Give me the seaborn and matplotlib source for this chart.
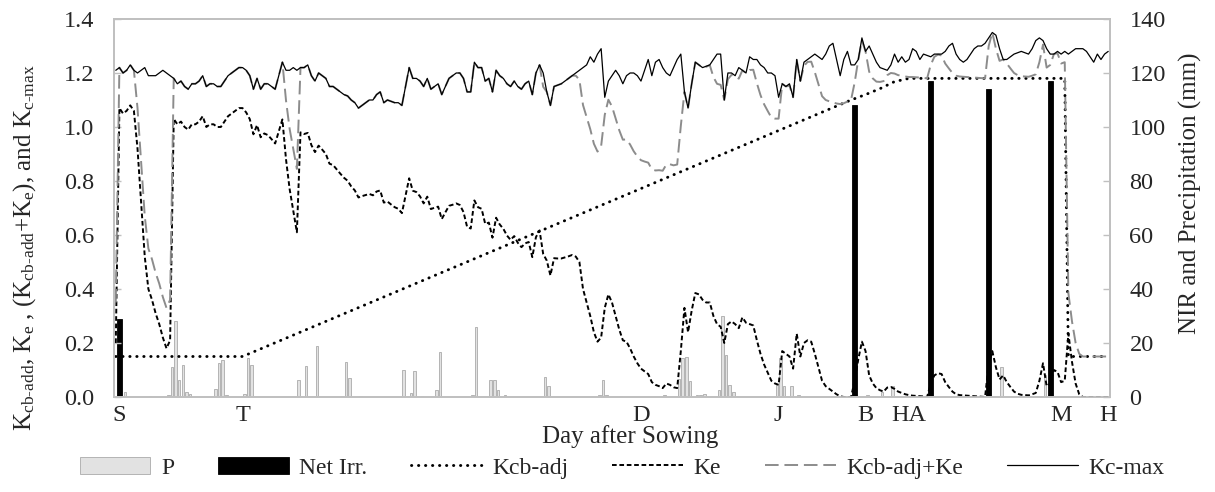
import numpy as np
import pandas as pd
import matplotlib
matplotlib.use("Agg")
import matplotlib.pyplot as plt
import seaborn as sns

# daily values, day 1 .. 275 after sowing
kc_max = [
    1.21, 1.22, 1.20, 1.21, 1.23, 1.21, 1.20, 1.21, 1.22, 1.19,
    1.19, 1.19, 1.20, 1.21, 1.20, 1.19, 1.18, 1.16, 1.17, 1.15,
    1.14, 1.16, 1.16, 1.17, 1.19, 1.15, 1.16, 1.16, 1.15, 1.15,
    1.17, 1.19, 1.20, 1.21, 1.22, 1.22, 1.21, 1.19, 1.14, 1.18,
    1.14, 1.16, 1.16, 1.15, 1.14, 1.19, 1.24, 1.21, 1.21, 1.22,
    1.21, 1.22, 1.22, 1.23, 1.19, 1.17, 1.20, 1.19, 1.18, 1.15,
    1.15, 1.14, 1.13, 1.12, 1.115, 1.10, 1.09, 1.07, 1.08, 1.09,
    1.10, 1.10, 1.12, 1.13, 1.09, 1.10, 1.095, 1.09, 1.09, 1.08,
    1.15, 1.22, 1.18, 1.18, 1.17, 1.15, 1.18, 1.14, 1.15, 1.16,
    1.12, 1.15, 1.18, 1.19, 1.20, 1.20, 1.18, 1.13, 1.13, 1.24,
    1.22, 1.22, 1.17, 1.18, 1.13, 1.21, 1.19, 1.18, 1.16, 1.15,
    1.17, 1.15, 1.14, 1.16, 1.17, 1.12, 1.20, 1.23, 1.20, 1.13,
    1.08, 1.15, 1.155, 1.16, 1.17, 1.18, 1.19, 1.20, 1.21, 1.22,
    1.23, 1.26, 1.24, 1.27, 1.29, 1.11, 1.17, 1.19, 1.21, 1.19,
    1.16, 1.19, 1.20, 1.20, 1.19, 1.17, 1.21, 1.25, 1.19, 1.24,
    1.25, 1.22, 1.20, 1.19, 1.22, 1.25, 1.27, 1.13, 1.07, 1.16,
    1.24, 1.23, 1.22, 1.225, 1.23, 1.25, 1.27, 1.27, 1.10, 1.20,
    1.20, 1.19, 1.22, 1.21, 1.20, 1.26, 1.25, 1.25, 1.23, 1.22,
    1.20, 1.20, 1.19, 1.11, 1.16, 1.15, 1.16, 1.11, 1.25, 1.17,
    1.24, 1.25, 1.26, 1.27, 1.26, 1.25, 1.27, 1.30, 1.31, 1.25,
    1.19, 1.25, 1.28, 1.23, 1.23, 1.25, 1.33, 1.28, 1.30, 1.27,
    1.24, 1.22, 1.215, 1.21, 1.23, 1.27, 1.24, 1.26, 1.24, 1.25,
    1.29, 1.28, 1.25, 1.27, 1.265, 1.26, 1.27, 1.27, 1.27, 1.28,
    1.30, 1.31, 1.27, 1.25, 1.24, 1.25, 1.27, 1.29, 1.30, 1.30,
    1.31, 1.33, 1.35, 1.34, 1.29, 1.25, 1.25, 1.26, 1.27, 1.275,
    1.28, 1.275, 1.27, 1.29, 1.32, 1.33, 1.32, 1.29, 1.27, 1.27,
    1.28, 1.27, 1.28, 1.27, 1.28, 1.29, 1.29, 1.29, 1.28, 1.26,
    1.24, 1.27, 1.25, 1.27, 1.28,
]

ke = [
    0.20, 1.07, 1.05, 1.06, 1.08, 1.06, 0.92, 0.72, 0.52, 0.40,
    0.36, 0.31, 0.27, 0.22, 0.18, 0.21, 1.03, 1.01, 1.02, 1.00,
    0.99, 1.01, 1.01, 1.02, 1.04, 1.00, 1.01, 1.01, 1.00, 1.00,
    1.02, 1.04, 1.05, 1.06, 1.07, 1.07, 1.054, 1.029, 0.973, 1.007,
    0.962, 0.976, 0.970, 0.955, 0.939, 0.983, 1.028, 0.88, 0.77, 0.69,
    0.61, 0.98, 0.974, 0.978, 0.933, 0.907, 0.931, 0.916, 0.900, 0.864,
    0.859, 0.843, 0.827, 0.812, 0.801, 0.780, 0.765, 0.739, 0.744, 0.748,
    0.752, 0.747, 0.761, 0.765, 0.720, 0.724, 0.713, 0.703, 0.697, 0.681,
    0.746, 0.810, 0.764, 0.759, 0.743, 0.717, 0.742, 0.696, 0.701, 0.705,
    0.659, 0.684, 0.708, 0.712, 0.717, 0.711, 0.685, 0.630, 0.624, 0.728,
    0.703, 0.697, 0.641, 0.646, 0.590, 0.664, 0.639, 0.623, 0.598, 0.582,
    0.596, 0.571, 0.555, 0.569, 0.574, 0.518, 0.592, 0.617, 0.530, 0.505,
    0.450, 0.514, 0.513, 0.513, 0.517, 0.521, 0.526, 0.520, 0.500, 0.400,
    0.35, 0.30, 0.24, 0.205, 0.22, 0.33, 0.38, 0.35, 0.30, 0.25,
    0.21, 0.205, 0.18, 0.15, 0.125, 0.105, 0.095, 0.085, 0.055, 0.045,
    0.04, 0.033, 0.05, 0.045, 0.036, 0.033, 0.17, 0.33, 0.24, 0.32,
    0.385, 0.38, 0.36, 0.35, 0.35, 0.30, 0.27, 0.26, 0.20, 0.27,
    0.28, 0.27, 0.255, 0.295, 0.275, 0.27, 0.265, 0.21, 0.16, 0.12,
    0.09, 0.06, 0.05, 0.045, 0.17, 0.16, 0.15, 0.105, 0.235, 0.15,
    0.20, 0.21, 0.205, 0.16, 0.11, 0.06, 0.04, 0.03, 0.02, 0.01,
    0.003, 0.0, 0.0, 0.0, 0.06, 0.14, 0.205, 0.17, 0.08, 0.05,
    0.033, 0.025, 0.02, 0.035, 0.037, 0.03, 0.02, 0.015, 0.01, 0.007,
    0.005, 0.004, 0.003, 0.002, 0.0, 0.05, 0.08, 0.088, 0.085, 0.055,
    0.037, 0.02, 0.01, 0.007, 0.006, 0.005, 0.004, 0.003, 0.002, 0.001,
    0.0, 0.12, 0.17, 0.11, 0.065, 0.08, 0.055, 0.037, 0.02, 0.012,
    0.008, 0.007, 0.006, 0.01, 0.015, 0.06, 0.125, 0.04, 0.05, 0.10,
    0.093, 0.055, 0.06, 0.235, 0.13, 0.05, 0.01, 0.0, 0.0, 0.0,
    0.0, 0.0, 0.0, 0.0, 0.0,
]

kcb_ke = [
    0.35, 1.22, 1.20, 1.21, 1.23, 1.21, 1.07, 0.87, 0.67, 0.55,
    0.51, 0.46, 0.42, 0.37, 0.33, 0.36, 1.18, 1.16, 1.17, 1.15,
    1.14, 1.16, 1.16, 1.17, 1.19, 1.15, 1.16, 1.16, 1.15, 1.15,
    1.17, 1.19, 1.20, 1.21, 1.22, 1.22, 1.21, 1.19, 1.14, 1.18,
    1.14, 1.16, 1.16, 1.15, 1.14, 1.19, 1.24, 1.098, 0.993, 0.919,
    0.845, 1.22, 1.22, 1.23, 1.19, 1.17, 1.20, 1.19, 1.18, 1.15,
    1.15, 1.14, 1.13, 1.12, 1.115, 1.10, 1.09, 1.07, 1.08, 1.09,
    1.10, 1.10, 1.12, 1.13, 1.09, 1.10, 1.095, 1.09, 1.09, 1.08,
    1.15, 1.22, 1.18, 1.18, 1.17, 1.15, 1.18, 1.14, 1.15, 1.16,
    1.12, 1.15, 1.18, 1.19, 1.20, 1.20, 1.18, 1.13, 1.13, 1.24,
    1.22, 1.22, 1.17, 1.18, 1.13, 1.21, 1.19, 1.18, 1.16, 1.15,
    1.17, 1.15, 1.14, 1.16, 1.17, 1.12, 1.20, 1.23, 1.149, 1.13,
    1.08, 1.15, 1.155, 1.16, 1.17, 1.18, 1.19, 1.19, 1.175, 1.081,
    1.037, 0.992, 0.938, 0.909, 0.929, 1.045, 1.101, 1.076, 1.032, 0.988,
    0.953, 0.954, 0.935, 0.910, 0.891, 0.877, 0.872, 0.868, 0.843, 0.839,
    0.840, 0.838, 0.861, 0.862, 0.858, 0.861, 1.004, 1.13, 1.07, 1.16,
    1.24, 1.23, 1.22, 1.223, 1.229, 1.185, 1.16, 1.156, 1.10, 1.177,
    1.193, 1.188, 1.179, 1.21, 1.20, 1.211, 1.212, 1.162, 1.118, 1.084,
    1.059, 1.035, 1.031, 1.031, 1.16, 1.15, 1.153, 1.11, 1.249, 1.17,
    1.226, 1.241, 1.242, 1.203, 1.158, 1.114, 1.10, 1.095, 1.091, 1.087,
    1.085, 1.088, 1.094, 1.10, 1.165, 1.25, 1.32, 1.28, 1.205, 1.18,
    1.168, 1.167, 1.17, 1.192, 1.20, 1.198, 1.192, 1.19, 1.187, 1.185,
    1.185, 1.184, 1.183, 1.182, 1.18, 1.23, 1.26, 1.268, 1.265, 1.235,
    1.217, 1.20, 1.19, 1.187, 1.186, 1.185, 1.184, 1.183, 1.182, 1.181,
    1.18, 1.30, 1.35, 1.29, 1.245, 1.25, 1.235, 1.217, 1.20, 1.192,
    1.188, 1.187, 1.186, 1.19, 1.195, 1.24, 1.305, 1.22, 1.23, 1.27,
    1.273, 1.235, 1.24, 0.385, 0.28, 0.20, 0.16, 0.15, 0.15, 0.15,
    0.15, 0.15, 0.15, 0.15, 0.15,
]

# Kcb-adj break points (day, value)
kcb_days = [1, 36, 204, 208, 212, 216, 220, 263, 264, 275]
kcb_adj = [0.15, 0.15, 1.10, 1.12, 1.142, 1.168, 1.18, 1.18, 0.15, 0.15]

# precipitation and net irrigation (mm)
p_days = [3, 10, 15, 16, 17, 18, 19, 20, 21, 28, 29, 30, 31, 36, 37, 38,
          51, 53, 56, 63, 64, 65, 68, 80, 82, 83, 85, 89, 90, 99, 100,
          104, 105, 106, 108, 119, 120, 134, 135, 136, 140, 152, 156, 157,
          158, 159, 161, 162, 163, 167, 168, 169, 170, 171, 172, 183, 184,
          185, 187, 189, 208, 212, 215, 245, 257]
p_mm = [2.0, 0.4, 0.8, 11.0, 28.0, 6.3, 12.0, 2.0, 1.0, 2.8, 12.5, 13.7,
        0.7, 1.0, 14.3, 12.0, 6.3, 11.5, 18.9, 0.3, 13.1, 6.9, 0.3, 10.0,
        1.5, 9.6, 0.3, 2.6, 16.8, 0.8, 26.0, 6.3, 6.4, 2.7, 0.6, 7.3, 4.0,
        0.7, 6.4, 0.7, 0.3, 0.6, 6.5, 14.3, 14.8, 6.0, 0.6, 0.6, 1.0, 2.5,
        30.0, 15.4, 4.5, 2.0, 0.5, 4.8, 14.5, 4.0, 4.0, 0.6, 0.6, 2.0, 4.0,
        11.0, 8.0]
irr_days = [2, 205, 226, 242, 259]
irr_mm = [29, 108, 117, 114, 117]

stage_days = [2, 36, 146, 184, 208, 220, 262, 275]
stage_labels = ["S", "T", "D", "J", "B", "HA", "M", "H"]

df = pd.DataFrame({"day": np.arange(1, 276), "Kc-max": kc_max,
                   "Ke": ke, "Kcb-adj+Ke": kcb_ke})

sns.set_theme(style="white")
plt.rcParams["font.family"] = ["Liberation Serif", "DejaVu Serif"]
plt.rcParams["mathtext.fontset"] = "custom"
plt.rcParams["mathtext.rm"] = "Liberation Serif"
plt.rcParams["mathtext.it"] = "Liberation Serif:italic"

grey = "#c0c0c0"
fs = 17.5

fig, ax = plt.subplots(figsize=(12.15, 4.92), dpi=100)
fig.subplots_adjust(left=0.0938, right=0.9136, top=0.9614, bottom=0.1931)
ax2 = ax.twinx()

ax2.bar(np.array(p_days) + 0.5, p_mm, width=0.7, color="#e2e2e2",
        edgecolor="#aaaaaa", linewidth=0.6, label="P")
ax2.bar(irr_days, irr_mm, width=1.3, color="black", edgecolor="black",
        linewidth=0.6, label="Net Irr.")

sns.lineplot(x=kcb_days, y=kcb_adj, ax=ax, color="black", linewidth=2.1,
             linestyle=(0, (0.1, 2.3)), dash_capstyle="round", label="Kcb-adj")
sns.lineplot(data=df, x="day", y="Ke", ax=ax, color="black", linewidth=1.4,
             linestyle=(0, (2.4, 1.4)), label="Ke")
sns.lineplot(data=df, x="day", y="Kcb-adj+Ke", ax=ax, color="#8c8c8c",
             linewidth=1.4, linestyle=(0, (7, 3)), label="Kcb-adj+Ke")
sns.lineplot(data=df, x="day", y="Kc-max", ax=ax, color="black",
             linewidth=0.9, label="Kc-max")

ax.set_zorder(ax2.get_zorder() + 1)
ax.patch.set_visible(False)

ax.set_xlim(0.5, 275.5)
ax.set_ylim(0, 1.4)
ax2.set_ylim(0, 140)
ax.set_yticks(np.arange(0, 1.41, 0.2))
ax.set_yticklabels([f"{v:.1f}" for v in np.arange(0, 1.41, 0.2)])
ax2.set_yticks(range(0, 141, 20))

major = np.arange(0.5, 276, 5)
ax.set_xticks(major)
ax.set_xticklabels([""] * len(major))
ax.set_xticks(stage_days, stage_labels, minor=True)
ax.tick_params(axis="x", which="major", direction="out", length=5,
               width=1, color=grey)
ax.tick_params(axis="x", which="minor", length=0, pad=6, labelsize=fs)
ax.tick_params(axis="y", direction="in", length=5, width=1, color=grey,
               labelsize=fs, pad=14)
ax2.tick_params(axis="y", direction="in", length=5, width=1, color=grey,
                labelsize=fs, pad=14)

for a in (ax, ax2):
    for s in a.spines.values():
        s.set_color(grey)
        s.set_linewidth(1.3)

ax.set_xlabel("")
ax.set_ylabel("")
ax2.set_ylabel("")
if ax.get_legend():
    ax.get_legend().remove()

fig.text(630 / 1215, 1 - 437 / 492, "Day after Sowing", ha="center",
         va="center", fontsize=18)
fig.text(25 / 1215, 1 - 248 / 492,
         "K$_{\\mathrm{cb\u2010add}}$, K$_{\\mathrm{e}}$ , "
         "(K$_{\\mathrm{cb\u2010add}}$+K$_{\\mathrm{e}}$), and K$_{\\mathrm{c\u2010max}}$",
         rotation=90, ha="center", va="center", fontsize=18)
fig.text(1190 / 1215, 1 - 193 / 492, "NIR and Precipitation (mm)",
         rotation=90, ha="center", va="center", fontsize=18)

h2, l2 = ax2.get_legend_handles_labels()
h1, l1 = ax.get_legend_handles_labels()
fig.legend(h2 + h1, l2 + l1, loc="center", bbox_to_anchor=(0.512, 0.049),
           ncol=6, frameon=False, handlelength=3.0, handletextpad=0.45,
           columnspacing=1.85, fontsize=17)

fig.savefig("out.png", dpi=100)
